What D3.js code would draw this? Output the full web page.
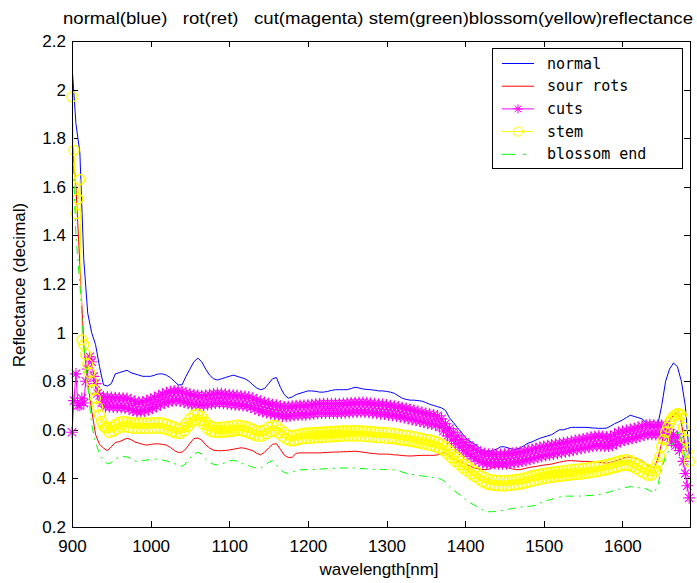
<!DOCTYPE html>
<html>
<head>
<meta charset="utf-8">
<script src="https://cdn.jsdelivr.net/npm/d3@7"></script>
<style>
  html, body { margin: 0; padding: 0; background: #fff; }
  svg { display: block; }
  .lbl { font-family: "Liberation Sans", Arial, sans-serif; fill: #000; }
  .leg { font-family: "DejaVu Sans Mono", monospace; font-size: 15px; fill: #000; }
</style>
</head>
<body>
<svg id="chart" width="697" height="583"></svg>
<script>
// Sampling grids: 5 nm for the plain traces, 2.5 nm for the marked traces
const wavelengths = d3.range(900, 1686, 5);
const wavelengthsFine = d3.range(900, 1686, 2.5);

// Reflectance (decimal) per class
const normal = [
  2.10, 1.86, 1.74, 1.30, 1.08, 1.00, 0.95, 0.86, 0.785, 0.78,
  0.79, 0.83, 0.835, 0.84, 0.845, 0.835, 0.83, 0.825, 0.82, 0.82,
  0.82, 0.825, 0.83, 0.83, 0.825, 0.815, 0.80, 0.785, 0.785, 0.82,
  0.85, 0.88, 0.895, 0.88, 0.85, 0.825, 0.81, 0.805, 0.81, 0.815,
  0.82, 0.825, 0.82, 0.815, 0.81, 0.80, 0.785, 0.772, 0.765, 0.77,
  0.79, 0.81, 0.815, 0.775, 0.745, 0.73, 0.735, 0.745, 0.75, 0.755,
  0.76, 0.76, 0.758, 0.755, 0.755, 0.758, 0.762, 0.765, 0.765, 0.765,
  0.765, 0.77, 0.775, 0.772, 0.768, 0.766, 0.765, 0.763, 0.76, 0.76,
  0.758, 0.755, 0.75, 0.74, 0.73, 0.725, 0.722, 0.722, 0.72, 0.718,
  0.712, 0.705, 0.70, 0.695, 0.69, 0.68, 0.65, 0.63, 0.61, 0.59,
  0.57, 0.555, 0.545, 0.535, 0.52, 0.512, 0.51, 0.515, 0.52, 0.53,
  0.53, 0.525, 0.52, 0.52, 0.525, 0.535, 0.545, 0.55, 0.558, 0.565,
  0.57, 0.575, 0.58, 0.59, 0.60, 0.60, 0.605, 0.61, 0.61, 0.61,
  0.61, 0.61, 0.608, 0.607, 0.606, 0.606, 0.607, 0.615, 0.625, 0.632,
  0.64, 0.65, 0.66, 0.655, 0.65, 0.645, 0.63, 0.615, 0.61, 0.62,
  0.70, 0.80, 0.85, 0.875, 0.86, 0.80, 0.70, 0.50
];

const sourRots = [
  1.80, 1.60, 1.28, 0.95, 0.80, 0.68, 0.58, 0.54, 0.525, 0.514,
  0.53, 0.548, 0.551, 0.558, 0.565, 0.56, 0.55, 0.545, 0.54, 0.537,
  0.54, 0.542, 0.542, 0.54, 0.537, 0.528, 0.515, 0.507, 0.508, 0.522,
  0.545, 0.564, 0.566, 0.558, 0.538, 0.525, 0.516, 0.514, 0.514, 0.515,
  0.517, 0.52, 0.523, 0.526, 0.524, 0.519, 0.514, 0.503, 0.497, 0.508,
  0.525, 0.54, 0.543, 0.52, 0.496, 0.486, 0.487, 0.503, 0.505, 0.505,
  0.505, 0.505, 0.505, 0.505, 0.506, 0.507, 0.508, 0.508, 0.509, 0.51,
  0.51, 0.511, 0.512, 0.51, 0.508, 0.506, 0.503, 0.502, 0.50, 0.50,
  0.50, 0.499, 0.497, 0.496, 0.494, 0.493, 0.492, 0.493, 0.494, 0.495,
  0.495, 0.495, 0.495, 0.497, 0.505, 0.505, 0.49, 0.48, 0.472, 0.466,
  0.46, 0.452, 0.445, 0.44, 0.438, 0.436, 0.438, 0.445, 0.447, 0.448,
  0.447, 0.443, 0.439, 0.436, 0.436, 0.44, 0.444, 0.447, 0.449, 0.452,
  0.455, 0.457, 0.459, 0.463, 0.467, 0.47, 0.473, 0.473, 0.472, 0.471,
  0.47, 0.47, 0.469, 0.468, 0.466, 0.464, 0.463, 0.466, 0.47, 0.476,
  0.482, 0.487, 0.488, 0.485, 0.479, 0.473, 0.46, 0.447, 0.443, 0.48,
  0.545, 0.61, 0.64, 0.66, 0.675, 0.63, 0.53, 0.48
];

const blossomEnd = [
  1.85, 1.40, 1.20, 0.95, 0.78, 0.62, 0.55, 0.50, 0.475, 0.46,
  0.465, 0.48, 0.488, 0.49, 0.488, 0.482, 0.472, 0.47, 0.473, 0.476,
  0.477, 0.479, 0.479, 0.476, 0.472, 0.467, 0.461, 0.453, 0.45, 0.462,
  0.485, 0.50, 0.508, 0.50, 0.48, 0.465, 0.458, 0.455, 0.458, 0.465,
  0.472, 0.475, 0.47, 0.463, 0.457, 0.452, 0.446, 0.442, 0.443, 0.452,
  0.465, 0.474, 0.455, 0.435, 0.424, 0.421, 0.425, 0.432, 0.435, 0.436,
  0.436, 0.436, 0.437, 0.438, 0.439, 0.44, 0.441, 0.442, 0.442, 0.443,
  0.443, 0.443, 0.442, 0.441, 0.44, 0.439, 0.438, 0.437, 0.437, 0.437,
  0.437, 0.436, 0.435, 0.432, 0.426, 0.421, 0.418, 0.415, 0.412, 0.41,
  0.408, 0.406, 0.403, 0.40, 0.396, 0.385, 0.368, 0.352, 0.34, 0.328,
  0.315, 0.303, 0.293, 0.284, 0.274, 0.266, 0.263, 0.263, 0.265, 0.267,
  0.27, 0.273, 0.276, 0.279, 0.282, 0.284, 0.285, 0.286, 0.29, 0.298,
  0.306, 0.31, 0.314, 0.319, 0.323, 0.326, 0.327, 0.327, 0.327, 0.327,
  0.328, 0.329, 0.33, 0.331, 0.333, 0.337, 0.341, 0.346, 0.35, 0.355,
  0.359, 0.363, 0.366, 0.365, 0.362, 0.36, 0.357, 0.35, 0.34, 0.37,
  0.44, 0.49, 0.52, 0.55, 0.60, 0.56, 0.48, 0.45
];

// noisy traces on the 2.5 nm grid (20 values per 50 nm row)
const cuts = [
  0.59, 0.72, 0.83, 0.70, 0.70, 0.73, 0.71, 0.80, 0.85, 0.90, 0.88, 0.82, 0.79, 0.75, 0.74, 0.71, 0.736, 0.695, 0.735, 0.694,
  0.734, 0.693, 0.733, 0.692, 0.732, 0.691, 0.731, 0.690, 0.730, 0.686, 0.723, 0.680, 0.717, 0.675, 0.714, 0.674, 0.715, 0.677, 0.720, 0.683,
  0.726, 0.689, 0.732, 0.696, 0.740, 0.703, 0.747, 0.710, 0.753, 0.715, 0.758, 0.719, 0.760, 0.720, 0.760, 0.718, 0.756, 0.713, 0.751, 0.709,
  0.747, 0.705, 0.744, 0.703, 0.742, 0.701, 0.740, 0.701, 0.742, 0.703, 0.745, 0.706, 0.748, 0.709, 0.750, 0.710, 0.749, 0.708, 0.747, 0.706,
  0.745, 0.704, 0.743, 0.702, 0.742, 0.701, 0.740, 0.699, 0.738, 0.697, 0.736, 0.693, 0.730, 0.686, 0.723, 0.680, 0.717, 0.675, 0.713, 0.670,
  0.708, 0.666, 0.704, 0.663, 0.702, 0.660, 0.698, 0.656, 0.695, 0.655, 0.696, 0.657, 0.698, 0.659, 0.700, 0.660, 0.701, 0.661, 0.701, 0.661,
  0.702, 0.663, 0.704, 0.665, 0.706, 0.667, 0.708, 0.668, 0.708, 0.668, 0.708, 0.668, 0.708, 0.668, 0.708, 0.668, 0.708, 0.668, 0.709, 0.669,
  0.710, 0.670, 0.711, 0.671, 0.712, 0.672, 0.713, 0.673, 0.713, 0.672, 0.712, 0.671, 0.710, 0.669, 0.708, 0.667, 0.706, 0.665, 0.705, 0.664,
  0.703, 0.661, 0.700, 0.659, 0.698, 0.656, 0.695, 0.653, 0.692, 0.650, 0.688, 0.646, 0.684, 0.642, 0.680, 0.638, 0.676, 0.634, 0.672, 0.630,
  0.668, 0.626, 0.665, 0.623, 0.662, 0.620, 0.658, 0.612, 0.645, 0.595, 0.625, 0.575, 0.605, 0.558, 0.590, 0.543, 0.575, 0.528, 0.560, 0.514,
  0.548, 0.501, 0.535, 0.490, 0.525, 0.480, 0.515, 0.471, 0.507, 0.465, 0.503, 0.461, 0.500, 0.460, 0.500, 0.460, 0.499, 0.459, 0.499, 0.459,
  0.500, 0.461, 0.502, 0.463, 0.504, 0.465, 0.506, 0.467, 0.508, 0.470, 0.512, 0.474, 0.516, 0.478, 0.520, 0.482, 0.524, 0.486, 0.528, 0.490,
  0.532, 0.494, 0.535, 0.497, 0.538, 0.500, 0.541, 0.503, 0.544, 0.506, 0.547, 0.509, 0.550, 0.512, 0.553, 0.515, 0.557, 0.519, 0.560, 0.522,
  0.563, 0.525, 0.566, 0.528, 0.570, 0.532, 0.573, 0.534, 0.575, 0.534, 0.573, 0.532, 0.571, 0.532, 0.572, 0.536, 0.580, 0.545, 0.590, 0.552,
  0.594, 0.556, 0.598, 0.560, 0.602, 0.564, 0.606, 0.568, 0.610, 0.573, 0.615, 0.578, 0.620, 0.581, 0.622, 0.581, 0.620, 0.580, 0.620, 0.580,
  0.620, 0.580, 0.620, 0.570, 0.600, 0.550, 0.580, 0.535, 0.570, 0.515, 0.540, 0.47, 0.42, 0.37, 0.32
];

const stem = [
  1.97, 1.75, 1.49, 1.55, 1.63, 0.97, 0.95, 0.91, 0.87, 0.835, 0.80, 0.765, 0.73, 0.695, 0.66, 0.635, 0.615, 0.607, 0.611, 0.589,
  0.611, 0.594, 0.621, 0.604, 0.631, 0.611, 0.635, 0.612, 0.633, 0.609, 0.629, 0.606, 0.628, 0.606, 0.628, 0.606, 0.628, 0.606, 0.628, 0.606,
  0.628, 0.606, 0.629, 0.607, 0.629, 0.606, 0.628, 0.603, 0.623, 0.598, 0.617, 0.592, 0.612, 0.586, 0.605, 0.585, 0.609, 0.595, 0.626, 0.614,
  0.646, 0.631, 0.661, 0.641, 0.665, 0.638, 0.655, 0.622, 0.633, 0.603, 0.617, 0.592, 0.612, 0.589, 0.610, 0.588, 0.611, 0.590, 0.613, 0.591,
  0.614, 0.593, 0.617, 0.596, 0.620, 0.597, 0.618, 0.594, 0.614, 0.590, 0.610, 0.584, 0.603, 0.577, 0.596, 0.573, 0.594, 0.575, 0.600, 0.583,
  0.611, 0.592, 0.618, 0.595, 0.617, 0.587, 0.601, 0.573, 0.589, 0.562, 0.579, 0.555, 0.576, 0.555, 0.579, 0.559, 0.583, 0.562, 0.586, 0.564,
  0.587, 0.565, 0.588, 0.566, 0.589, 0.567, 0.590, 0.568, 0.591, 0.569, 0.592, 0.570, 0.593, 0.571, 0.594, 0.572, 0.595, 0.573, 0.596, 0.574,
  0.596, 0.574, 0.596, 0.574, 0.596, 0.574, 0.596, 0.574, 0.595, 0.572, 0.594, 0.571, 0.593, 0.570, 0.591, 0.568, 0.590, 0.567, 0.589, 0.566,
  0.588, 0.565, 0.587, 0.564, 0.585, 0.561, 0.582, 0.558, 0.579, 0.556, 0.577, 0.554, 0.575, 0.551, 0.572, 0.548, 0.569, 0.545, 0.565, 0.541,
  0.561, 0.538, 0.559, 0.534, 0.554, 0.529, 0.549, 0.523, 0.542, 0.514, 0.531, 0.500, 0.514, 0.484, 0.499, 0.470, 0.485, 0.456, 0.471, 0.442,
  0.458, 0.430, 0.446, 0.418, 0.434, 0.407, 0.425, 0.396, 0.411, 0.385, 0.404, 0.378, 0.397, 0.373, 0.394, 0.371, 0.392, 0.369, 0.391, 0.369,
  0.391, 0.369, 0.392, 0.371, 0.394, 0.373, 0.396, 0.375, 0.398, 0.378, 0.402, 0.382, 0.406, 0.386, 0.411, 0.390, 0.414, 0.394, 0.418, 0.397,
  0.421, 0.400, 0.424, 0.403, 0.426, 0.405, 0.428, 0.407, 0.430, 0.409, 0.432, 0.411, 0.434, 0.413, 0.436, 0.415, 0.438, 0.416, 0.439, 0.418,
  0.441, 0.420, 0.443, 0.422, 0.446, 0.425, 0.449, 0.428, 0.451, 0.430, 0.454, 0.434, 0.458, 0.438, 0.462, 0.442, 0.466, 0.446, 0.471, 0.451,
  0.475, 0.454, 0.477, 0.453, 0.474, 0.448, 0.466, 0.440, 0.458, 0.430, 0.447, 0.421, 0.439, 0.413, 0.431, 0.414, 0.441, 0.431, 0.466, 0.49,
  0.53, 0.56, 0.59, 0.61, 0.63, 0.645, 0.655, 0.662, 0.668, 0.665, 0.66, 0.61, 0.56, 0.51, 0.47
];

const xTickValues = [900, 1000, 1100, 1200, 1300, 1400, 1500, 1600];
const yTickValues = [0.2, 0.4, 0.6, 0.8, 1.0, 1.2, 1.4, 1.6, 1.8, 2.0, 2.2];
const yTickLabels = ["0.2", "0.4", "0.6", "0.8", "1", "1.2", "1.4", "1.6", "1.8", "2", "2.2"];
const legendNames = ["normal", "sour rots", "cuts", "stem", "blossom end"];
const titleText = "normal(blue)   rot(ret)   cut(magenta) stem(green)blossom(yellow)reflectance";
const xLabel = "wavelength[nm]";
const yLabel = "Reflectance (decimal)";

// ---- layout ----
const plot = { left: 72, right: 690, top: 41, bottom: 527 };
const svg = d3.select("#chart");

const x = d3.scaleLinear().domain([900, 1686]).range([plot.left, plot.right]);
const y = d3.scaleLinear().domain([0.2, 2.2]).range([plot.bottom, plot.top]);

const series = [
  { name: legendNames[0], xs: wavelengths,     values: normal,     color: "#0000ff", dash: null,      marker: null },
  { name: legendNames[1], xs: wavelengths,     values: sourRots,   color: "#ff0000", dash: null,      marker: null },
  { name: legendNames[2], xs: wavelengthsFine, values: cuts,       color: "#ff00ff", dash: null,      marker: "star" },
  { name: legendNames[3], xs: wavelengthsFine, values: stem,       color: "#ffff00", dash: null,      marker: "circle" },
  { name: legendNames[4], xs: wavelengths,     values: blossomEnd, color: "#00ff00", dash: "8,5,2,5", marker: null }
];

// star marker: plus overlaid with a cross
function starPath(s) {
  const d = s * 0.72;
  return `M${-s},0H${s}M0,${-s}V${s}M${-d},${-d}L${d},${d}M${-d},${d}L${d},${-d}`;
}

// ---- axes ticks (pointing inward on all four sides) ----
const axisG = svg.append("g").attr("shape-rendering", "crispEdges");

axisG.append("g")
  .attr("transform", `translate(0,${plot.bottom})`)
  .call(d3.axisBottom(x).tickValues(xTickValues).tickFormat(d3.format("d"))
    .tickSizeInner(-6).tickSizeOuter(0).tickPadding(13));
axisG.append("g")
  .attr("transform", `translate(${plot.left},0)`)
  .call(d3.axisLeft(y).tickValues(yTickValues).tickFormat((d, i) => yTickLabels[i])
    .tickSizeInner(-6).tickSizeOuter(0).tickPadding(6));
axisG.append("g")
  .attr("transform", `translate(0,${plot.top})`)
  .call(d3.axisTop(x).tickValues(xTickValues).tickFormat("").tickSizeInner(-6).tickSizeOuter(0));
axisG.append("g")
  .attr("transform", `translate(${plot.right},0)`)
  .call(d3.axisRight(y).tickValues(yTickValues).tickFormat("").tickSizeInner(-6).tickSizeOuter(0));

axisG.selectAll(".domain").remove();
axisG.selectAll(".tick line").attr("stroke", "#000");
axisG.selectAll(".tick text")
  .attr("class", "lbl")
  .style("font-size", "17px")
  .attr("fill", "#000");

// ---- data lines and markers ----
const clipId = "plotClip";
svg.append("clipPath").attr("id", clipId)
  .append("rect")
  .attr("x", plot.left).attr("y", plot.top)
  .attr("width", plot.right - plot.left).attr("height", plot.bottom - plot.top);

const dataG = svg.append("g");
series.forEach(s => {
  const line = d3.line()
    .x((d, i) => x(s.xs[i]))
    .y(d => y(d));

  dataG.append("path")
    .datum(s.values)
    .attr("clip-path", `url(#${clipId})`)
    .attr("fill", "none")
    .attr("stroke", s.color)
    .attr("stroke-width", 1)
    .attr("stroke-dasharray", s.dash)
    .attr("d", line);

  if (s.marker === "star") {
    dataG.append("g").selectAll("path")
      .data(s.values)
      .join("path")
      .attr("transform", (d, i) => `translate(${x(s.xs[i])},${y(d)})`)
      .attr("d", starPath(5.8))
      .attr("fill", "none")
      .attr("stroke", s.color)
      .attr("stroke-width", 1.1);
  } else if (s.marker === "circle") {
    dataG.append("g").selectAll("circle")
      .data(s.values)
      .join("circle")
      .attr("cx", (d, i) => x(s.xs[i]))
      .attr("cy", d => y(d))
      .attr("r", 5)
      .attr("fill", "none")
      .attr("stroke", s.color)
      .attr("stroke-width", 1.3);
  }
});

// axes frame drawn over the data
svg.append("rect")
  .attr("x", plot.left + 0.5).attr("y", plot.top + 0.5)
  .attr("width", plot.right - plot.left).attr("height", plot.bottom - plot.top)
  .attr("fill", "none").attr("stroke", "#000").attr("stroke-width", 1);

// ---- legend ----
const legend = svg.append("g");
legend.append("rect")
  .attr("x", 492.5).attr("y", 48.5).attr("width", 190).attr("height", 120)
  .attr("fill", "#fff").attr("stroke", "#000").attr("stroke-width", 1);

series.forEach((s, i) => {
  const ly = 63.5 + i * 22.7;
  legend.append("line")
    .attr("x1", 502).attr("x2", 534).attr("y1", ly).attr("y2", ly)
    .attr("stroke", s.color).attr("stroke-width", 1)
    .attr("stroke-dasharray", s.dash ? "13,8,3,8" : null);
  if (s.marker === "star") {
    legend.append("path").attr("transform", `translate(518,${ly})`)
      .attr("d", starPath(4.6)).attr("fill", "none").attr("stroke", s.color);
  } else if (s.marker === "circle") {
    legend.append("circle").attr("cx", 518).attr("cy", ly).attr("r", 4.6)
      .attr("fill", "none").attr("stroke", s.color);
  }
  legend.append("text")
    .attr("class", "leg")
    .attr("x", 547).attr("y", ly + 5)
    .text(s.name);
});

// ---- titles ----
svg.append("text")
  .attr("class", "lbl")
  .attr("x", 63).attr("y", 24)
  .attr("xml:space", "preserve")
  .style("white-space", "pre")
  .style("font-size", "17px")
  .attr("textLength", 630)
  .attr("lengthAdjust", "spacingAndGlyphs")
  .text(titleText);

svg.append("text")
  .attr("class", "lbl")
  .attr("x", 379).attr("y", 575)
  .attr("text-anchor", "middle")
  .style("font-size", "17px")
  .text(xLabel);

svg.append("text")
  .attr("class", "lbl")
  .attr("transform", "translate(25,285) rotate(-90)")
  .attr("text-anchor", "middle")
  .style("font-size", "17px")
  .text(yLabel);
</script>
</body>
</html>
